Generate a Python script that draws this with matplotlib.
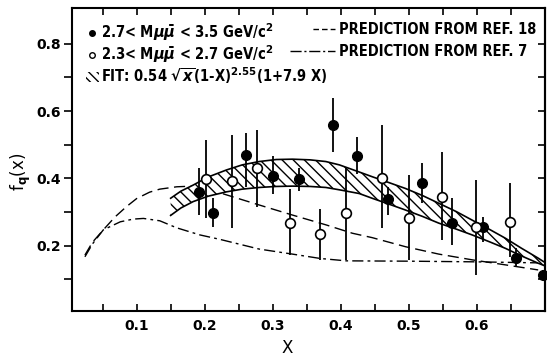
import numpy as np
import matplotlib
matplotlib.use("Agg")
import matplotlib.pyplot as plt
from matplotlib.lines import Line2D
from matplotlib.patches import Patch

# data
# 2.7 < M < 3.5 GeV/c^2 (filled)
filled_x = [0.191, 0.212, 0.260, 0.300, 0.339, 0.389, 0.424, 0.470, 0.520, 0.564, 0.609, 0.658, 0.697]
filled_y = [0.360, 0.298, 0.470, 0.407, 0.398, 0.559, 0.467, 0.339, 0.385, 0.268, 0.255, 0.163, 0.113]
filled_hi = [0.430, 0.342, 0.534, 0.465, 0.430, 0.638, 0.524, 0.375, 0.445, 0.341, 0.286, 0.193, 0.128]
filled_lo = [0.290, 0.256, 0.375, 0.354, 0.363, 0.479, 0.413, 0.291, 0.326, 0.202, 0.212, 0.138, 0.098]

# 2.3 < M < 2.7 GeV/c^2 (open)
open_x = [0.2025, 0.240, 0.277, 0.325, 0.370, 0.408, 0.460, 0.500, 0.549, 0.599, 0.648]
open_y = [0.397, 0.391, 0.432, 0.266, 0.234, 0.296, 0.402, 0.283, 0.346, 0.256, 0.271]
open_hi = [0.514, 0.529, 0.544, 0.368, 0.308, 0.435, 0.559, 0.410, 0.479, 0.395, 0.385]
open_lo = [0.281, 0.252, 0.316, 0.172, 0.157, 0.157, 0.252, 0.157, 0.217, 0.113, 0.167]

# fit band
band_x = [0.150, 0.165, 0.183, 0.205, 0.232, 0.255, 0.280, 0.305, 0.329, 0.355, 0.378, 0.398, 0.427,
          0.446, 0.470, 0.495, 0.520, 0.544, 0.570, 0.593, 0.618, 0.642, 0.665, 0.690, 0.700]
band_hi = [0.341, 0.362, 0.380, 0.404, 0.425, 0.440, 0.450, 0.456, 0.457, 0.455, 0.450, 0.440, 0.419,
           0.405, 0.388, 0.370, 0.349, 0.326, 0.301, 0.276, 0.249, 0.222, 0.193, 0.163, 0.150]
band_lo = [0.290, 0.312, 0.331, 0.347, 0.360, 0.368, 0.373, 0.376, 0.377, 0.376, 0.373, 0.366, 0.355,
           0.341, 0.324, 0.306, 0.287, 0.267, 0.249, 0.232, 0.212, 0.192, 0.170, 0.148, 0.140]

# prediction from ref. 18 (dashed)
ref18_x = [0.024, 0.035, 0.051, 0.068, 0.085, 0.100, 0.119, 0.134, 0.159, 0.183, 0.205, 0.232, 0.280,
           0.329, 0.378, 0.417, 0.446, 0.495, 0.544, 0.593, 0.642, 0.690]
ref18_y = [0.172, 0.210, 0.247, 0.285, 0.316, 0.340, 0.359, 0.368, 0.375, 0.377, 0.368, 0.351, 0.321,
           0.291, 0.262, 0.237, 0.224, 0.197, 0.175, 0.158, 0.143, 0.128]

# prediction from ref. 7 (dash-dot)
ref7_x = [0.024, 0.035, 0.051, 0.076, 0.095, 0.110, 0.134, 0.159, 0.193, 0.222, 0.280, 0.329, 0.370,
          0.408, 0.500, 0.600, 0.690]
ref7_y = [0.167, 0.205, 0.247, 0.271, 0.279, 0.281, 0.274, 0.253, 0.232, 0.219, 0.190, 0.175, 0.162,
          0.155, 0.154, 0.152, 0.149]

xticks = [0.1, 0.2, 0.3, 0.4, 0.5, 0.6]
xticklabels = ["0.1", "0.2", "0.3", "0.4", "0.5", "0.6"]
yticks = [0.2, 0.4, 0.6, 0.8]
yticklabels = ["0.2", "0.4", "0.6", "0.8"]

plt.rcParams['font.family'] = ['DejaVu Sans']
plt.rcParams['font.weight'] = 'bold'
plt.rcParams['mathtext.fontset'] = 'dejavusans'
plt.rcParams['hatch.linewidth'] = 1.0

fig = plt.figure(figsize=(5.47, 3.56), dpi=100)
ax = fig.add_axes([0.1316, 0.1264, 0.8647, 0.851])

# predictions
ax.plot(ref18_x, ref18_y, color='black', lw=1.0, dashes=(8, 4), zorder=1)
ax.plot(ref7_x, ref7_y, color='black', lw=1.0, dashes=(8, 3, 2, 3), zorder=1)

# fit band
ax.fill_between(band_x, band_lo, band_hi, facecolor='white', edgecolor='black',
                hatch='\\\\\\', linewidth=0, zorder=2)
ax.plot(band_x, band_hi, color='black', lw=1.2, zorder=3)
ax.plot(band_x, band_lo, color='black', lw=1.2, zorder=3)

# data points
ax.vlines(filled_x, filled_lo, filled_hi, color='black', lw=1.3, zorder=4)
ax.vlines(open_x, open_lo, open_hi, color='black', lw=1.3, zorder=4)
ax.plot(filled_x, filled_y, 'o', color='black', ms=7, zorder=5, clip_on=False)
ax.plot(open_x, open_y, 'o', mfc='white', mec='black', mew=1.2, ms=7, zorder=5)

ax.set_xlim(0.005, 0.70)
ax.set_ylim(0.006, 0.906)
ax.set_xticks(xticks)
ax.set_xticklabels(xticklabels, fontsize=10)
ax.set_xticks(np.arange(0.05, 0.70, 0.1), minor=True)
ax.set_yticks(yticks)
ax.set_yticklabels(yticklabels, fontsize=10)
ax.set_yticks([0.1, 0.3, 0.5, 0.7], minor=True)

ax.tick_params(axis='x', which='both', direction='in', top=True, length=5, width=1.2, pad=6)
ax.tick_params(axis='y', which='both', direction='out', length=6, width=1.2, pad=2)
sec = ax.secondary_yaxis('right')
sec.set_yticks([0.1, 0.2, 0.3, 0.4, 0.5, 0.6, 0.7, 0.8])
sec.tick_params(direction='in', length=5, width=1.2, labelright=False)
sec.spines['right'].set_linewidth(1.5)
for s in ax.spines.values():
    s.set_linewidth(1.5)

ax.set_xlabel("X", fontsize=12)
ax.xaxis.set_label_coords(0.455, -0.093)
ax.set_ylabel(r"f$_\mathbf{q}$(x)", fontsize=12)
ax.yaxis.set_label_coords(-0.083, 0.46)

# legends
lfont = {'family': 'DejaVu Sans', 'stretch': 'condensed', 'weight': 'bold', 'size': 10.5}
h1 = [Line2D([], [], marker='o', ls='none', color='black', ms=4),
      Line2D([], [], marker='o', ls='none', mfc='white', mec='black', mew=1, ms=4),
      Patch(facecolor='white', edgecolor='black', hatch='\\\\\\\\', linewidth=0)]
l1 = [r"2.7< M$\mu\bar{\mu}$ < 3.5 GeV/c$^2$",
      r"2.3< M$\mu\bar{\mu}$ < 2.7 GeV/c$^2$",
      r"FIT: 0.54 $\sqrt{x}$(1-X)$^{2.55}$(1+7.9 X)"]
leg1 = ax.legend(h1, l1, loc='upper left', bbox_to_anchor=(0.023, 0.965), frameon=False,
                 prop=lfont, handlelength=0.9, handletextpad=0.15, labelspacing=0.02,
                 borderpad=0.2, borderaxespad=0)
ax.add_artist(leg1)

h2 = [Line2D([], [], color='black', lw=1.0, ls=(0, (0, 16.5, 4, 2.2, 4, 2.2, 4, 20))),
      Line2D([], [], color='black', lw=1.0, dashes=(8, 2, 1.5, 2))]
l2 = ["PREDICTION FROM REF. 18", "PREDICTION FROM REF. 7"]
ax.legend(h2, l2, loc='upper left', bbox_to_anchor=(0.4545, 0.963), frameon=False,
          prop=lfont, handlelength=3.1, handletextpad=0.25, labelspacing=0.5,
          borderpad=0.2, borderaxespad=0)

fig.savefig("out.png", dpi=100)
